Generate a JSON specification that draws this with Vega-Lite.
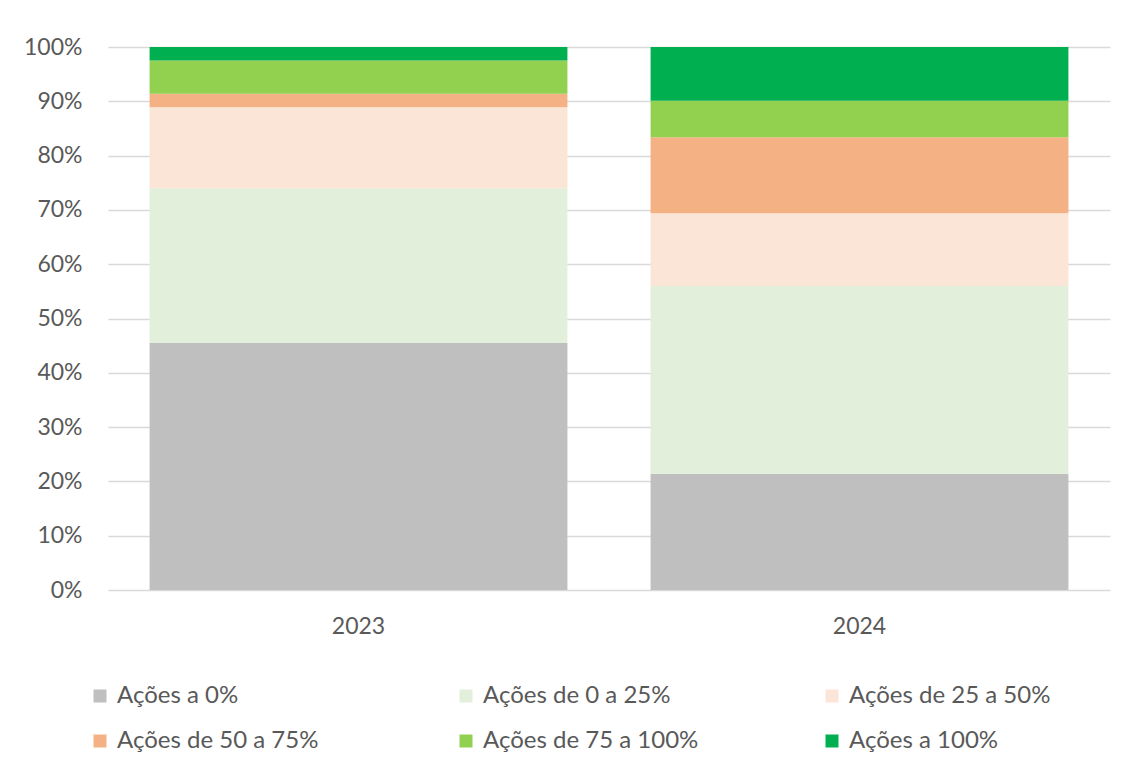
{
  "$schema": "https://vega.github.io/schema/vega-lite/v6.json",
  "width": 1002,
  "height": 543,
  "autosize": {"type": "none"},
  "padding": {"left": 108, "top": 47, "right": 22, "bottom": 184},
  "background": "white",
  "config": {
    "view": {"stroke": null},
    "font": "Lato",
    "axis": {"labelFont": "Lato", "labelColor": "#595959", "labelFontSize": 23, "gridColor": "#D9D9D9", "gridWidth": 1.5, "domain": false, "ticks": false},
    "legend": {"labelFont": "Lato", "labelColor": "#595959", "labelFontSize": 24}
  },
  "data": {
    "values": [
      {"ano": "2023", "cat": "Ações a 0%", "ord": 1, "v": 0.455},
      {"ano": "2023", "cat": "Ações de 0 a 25%", "ord": 2, "v": 0.285},
      {"ano": "2023", "cat": "Ações de 25 a 50%", "ord": 3, "v": 0.149},
      {"ano": "2023", "cat": "Ações de 50 a 75%", "ord": 4, "v": 0.025},
      {"ano": "2023", "cat": "Ações de 75 a 100%", "ord": 5, "v": 0.061},
      {"ano": "2023", "cat": "Ações a 100%", "ord": 6, "v": 0.025},
      {"ano": "2024", "cat": "Ações a 0%", "ord": 1, "v": 0.214},
      {"ano": "2024", "cat": "Ações de 0 a 25%", "ord": 2, "v": 0.346},
      {"ano": "2024", "cat": "Ações de 25 a 50%", "ord": 3, "v": 0.134},
      {"ano": "2024", "cat": "Ações de 50 a 75%", "ord": 4, "v": 0.140},
      {"ano": "2024", "cat": "Ações de 75 a 100%", "ord": 5, "v": 0.067},
      {"ano": "2024", "cat": "Ações a 100%", "ord": 6, "v": 0.099}
    ]
  },
  "mark": {"type": "bar"},
  "encoding": {
    "x": {
      "field": "ano", "type": "nominal", "title": null,
      "scale": {"paddingInner": 0.166, "paddingOuter": 0.083},
      "axis": {"labelAngle": 0, "labelPadding": 25, "grid": false}
    },
    "y": {
      "field": "v", "type": "quantitative", "stack": "zero", "title": null,
      "scale": {"domain": [0, 1], "nice": false},
      "axis": {"format": ".0%", "values": [0, 0.1, 0.2, 0.3, 0.4, 0.5, 0.6, 0.7, 0.8, 0.9, 1], "labelOverlap": false, "labelPadding": 26}
    },
    "order": {"field": "ord", "type": "quantitative"},
    "color": {
      "field": "cat", "type": "nominal", "title": null,
      "scale": {
        "domain": ["Ações a 0%", "Ações de 0 a 25%", "Ações de 25 a 50%", "Ações de 50 a 75%", "Ações de 75 a 100%", "Ações a 100%"],
        "range": ["#BFBFBF", "#E2EFDA", "#FBE5D6", "#F4B183", "#92D050", "#00B050"]
      },
      "legend": {
        "orient": "none", "legendX": -20, "legendY": 637, "direction": "horizontal", "columns": 3,
        "symbolType": "square", "symbolSize": 169, "symbolStrokeWidth": 0, "labelOffset": 5, "labelLimit": 400,
        "gridAlign": "all", "columnPadding": 121, "rowPadding": 21
      }
    }
  }
}
